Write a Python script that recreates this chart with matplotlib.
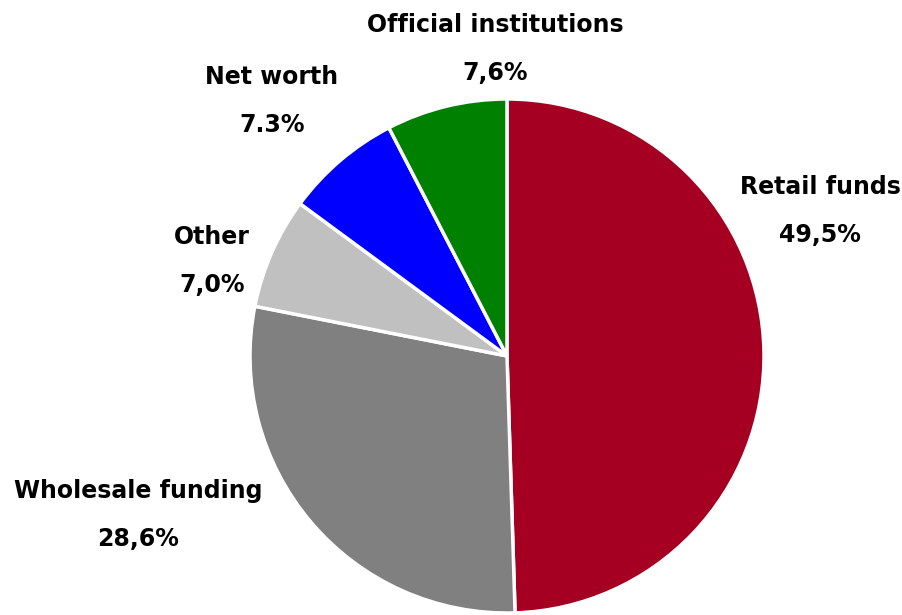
import matplotlib.pyplot as plt

# %% Data
categories = ["Retail funds", "Wholesale funding", "Other", "Net worth", "Official institutions"]
shares = [49.5, 28.6, 7.0, 7.3, 7.6]
decimal_seps = [",", ",", ",", ".", ","]
colors = ["#A50021", "#808080", "#C0C0C0", "#0000FF", "#008000"]

# Label anchors (pixel centres of the name line), pie centre and radius in pixels
label_px = [(820, 187), (138, 491), (212, 237), (272, 77), (495, 25)]
center_px = (507, 356)
radius_px = 257
W, H = 903, 615

fig = plt.figure(figsize=(W / 100, H / 100), dpi=100)
ax = fig.add_axes([0, 0, 1, 1])
ax.axis("off")

ax.pie(shares, colors=colors, startangle=90, counterclock=False, radius=1.0,
       wedgeprops=dict(edgecolor="white", linewidth=2.5))
ax.set_xlim(-center_px[0] / radius_px, (W - center_px[0]) / radius_px)
ax.set_ylim(-(H - center_px[1]) / radius_px, center_px[1] / radius_px)
ax.set_aspect("auto")

def to_data(px, py):
    return (px - center_px[0]) / radius_px, (center_px[1] - py) / radius_px

for name, v, sep, (px, py) in zip(categories, shares, decimal_seps, label_px):
    x, y = to_data(px, py)
    ax.text(x, y, name, ha="center", va="center", fontsize=17, fontweight="bold")
    x2, y2 = to_data(px, py + 48)
    pct = f"{v:.1f}".replace(".", sep) + "%"
    ax.text(x2, y2, pct, ha="center", va="center", fontsize=17, fontweight="bold")

fig.savefig("out.png", dpi=100)
